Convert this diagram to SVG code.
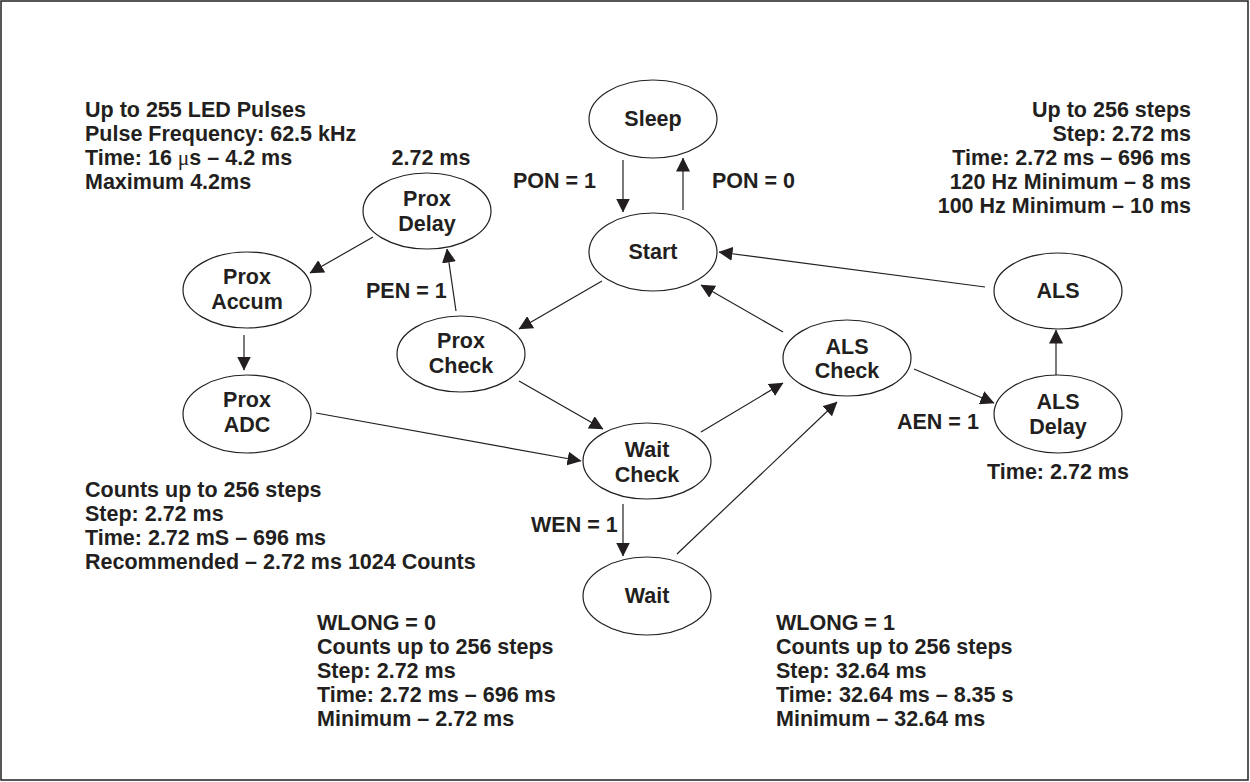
<svg xmlns="http://www.w3.org/2000/svg" width="1250" height="782" viewBox="0 0 1250 782">
<style>
text{font-family:"Liberation Sans",Arial,sans-serif;font-weight:bold;font-size:21.5px;fill:#231f20}
.c{text-anchor:middle}
.r{text-anchor:end}
ellipse{fill:#fff;stroke:#231f20;stroke-width:1.2}
.e line{stroke:#231f20;stroke-width:1.2;marker-end:url(#ah)}
.mu{font-family:"Liberation Serif",serif;font-weight:normal}
</style>
<defs>
<marker id="ah" markerUnits="userSpaceOnUse" markerWidth="14" markerHeight="14" refX="13.5" refY="7" orient="auto" viewBox="0 0 14 14">
<path d="M0,0 L14,7 L0,14 z" fill="#231f20"/>
</marker>
</defs>
<rect x="1" y="1" width="1247" height="779" fill="#fff" stroke="#231f20" stroke-width="1.5"/>

<g class="e" id="connectors">
<line x1="623" y1="160" x2="623" y2="212"/>
<line x1="683" y1="210" x2="683" y2="158"/>
<line x1="985" y1="287" x2="719" y2="252"/>
<line x1="783" y1="332" x2="701" y2="285"/>
<line x1="602" y1="281" x2="519" y2="329"/>
<line x1="456" y1="311" x2="447" y2="249"/>
<line x1="373" y1="237" x2="310" y2="273"/>
<line x1="244" y1="335" x2="244" y2="370"/>
<line x1="316" y1="413" x2="581" y2="461"/>
<line x1="519" y1="381" x2="603" y2="429"/>
<line x1="701" y1="432" x2="783" y2="383"/>
<line x1="677" y1="554" x2="837" y2="402"/>
<line x1="623" y1="504" x2="623" y2="556"/>
<line x1="914" y1="369" x2="994" y2="403"/>
<line x1="1056" y1="375" x2="1056" y2="330"/>
</g>

<g id="sleep"><ellipse cx="653" cy="119" rx="64" ry="39"/><text class="c" x="653" y="126">Sleep</text></g>
<g id="start"><ellipse cx="653" cy="252" rx="64" ry="39"/><text class="c" x="653" y="259">Start</text></g>
<g id="prox-delay"><ellipse cx="427" cy="211" rx="64" ry="38"/><text class="c" x="427" y="206">Prox</text><text class="c" x="427" y="231">Delay</text></g>
<g id="prox-accum"><ellipse cx="247" cy="290" rx="64" ry="38"/><text class="c" x="247" y="284">Prox</text><text class="c" x="247" y="309">Accum</text></g>
<g id="prox-adc"><ellipse cx="247" cy="414" rx="64" ry="39"/><text class="c" x="247" y="407">Prox</text><text class="c" x="247" y="432">ADC</text></g>
<g id="prox-check"><ellipse cx="461" cy="354" rx="64" ry="38"/><text class="c" x="461" y="348">Prox</text><text class="c" x="461" y="373">Check</text></g>
<g id="wait-check"><ellipse cx="647" cy="461" rx="64" ry="38"/><text class="c" x="647" y="457">Wait</text><text class="c" x="647" y="482">Check</text></g>
<g id="als-check"><ellipse cx="847" cy="358" rx="64" ry="38"/><text class="c" x="847" y="354">ALS</text><text class="c" x="847" y="378">Check</text></g>
<g id="als"><ellipse cx="1058" cy="291" rx="64" ry="38"/><text class="c" x="1058" y="298">ALS</text></g>
<g id="als-delay"><ellipse cx="1058" cy="414" rx="64" ry="39"/><text class="c" x="1058" y="409">ALS</text><text class="c" x="1058" y="434">Delay</text></g>
<g id="wait"><ellipse cx="647" cy="596" rx="64" ry="39"/><text class="c" x="647" y="603">Wait</text></g>

<g id="labels">
<text x="513" y="188">PON = 1</text>
<text x="712" y="188">PON = 0</text>
<text x="366" y="298">PEN = 1</text>
<text x="897" y="429">AEN = 1</text>
<text x="531" y="532">WEN = 1</text>
<text class="c" x="431" y="165">2.72 ms</text>
<text class="c" x="1058" y="479">Time: 2.72 ms</text>

<text x="85" y="117">Up to 255 LED Pulses</text>
<text x="85" y="141">Pulse Frequency: 62.5 kHz</text>
<text x="85" y="165">Time: 16 <tspan class="mu">μ</tspan>s – 4.2 ms</text>
<text x="85" y="189">Maximum 4.2ms</text>

<text class="r" x="1191" y="117">Up to 256 steps</text>
<text class="r" x="1191" y="141">Step: 2.72 ms</text>
<text class="r" x="1191" y="165">Time: 2.72 ms – 696 ms</text>
<text class="r" x="1191" y="189">120 Hz Minimum – 8 ms</text>
<text class="r" x="1191" y="213">100 Hz Minimum – 10 ms</text>

<text x="85" y="497">Counts up to 256 steps</text>
<text x="85" y="521">Step: 2.72 ms</text>
<text x="85" y="545">Time: 2.72 mS – 696 ms</text>
<text x="85" y="569">Recommended – 2.72 ms 1024 Counts</text>

<text x="317" y="630">WLONG = 0</text>
<text x="317" y="654">Counts up to 256 steps</text>
<text x="317" y="678">Step: 2.72 ms</text>
<text x="317" y="702">Time: 2.72 ms – 696 ms</text>
<text x="317" y="726">Minimum – 2.72 ms</text>

<text x="776" y="630">WLONG = 1</text>
<text x="776" y="654">Counts up to 256 steps</text>
<text x="776" y="678">Step: 32.64 ms</text>
<text x="776" y="702">Time: 32.64 ms – 8.35 s</text>
<text x="776" y="726">Minimum – 32.64 ms</text>
</g>
</svg>
